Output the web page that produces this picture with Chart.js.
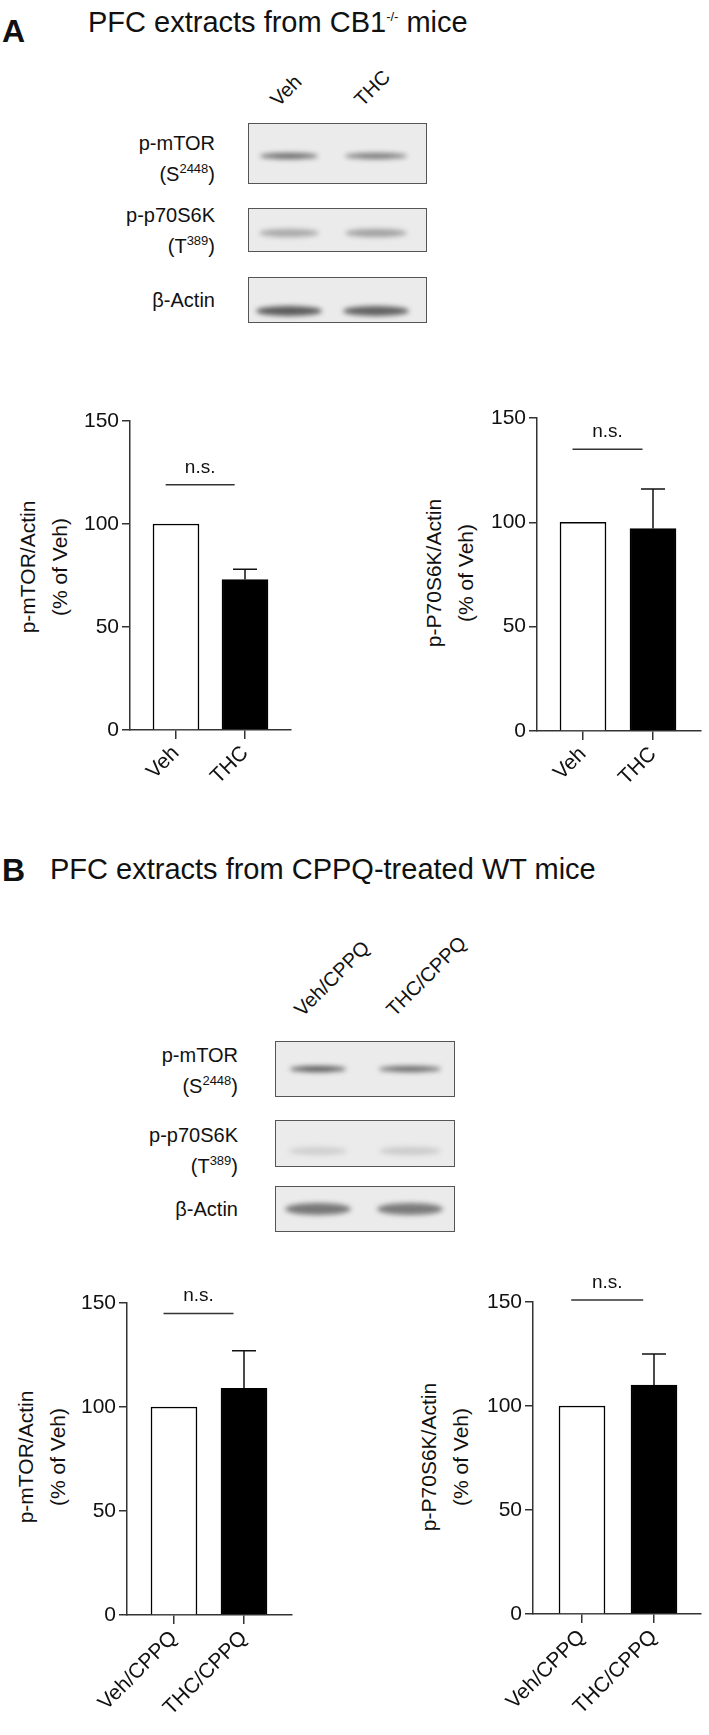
<!DOCTYPE html>
<html>
<head>
<meta charset="utf-8">
<script src="https://cdn.jsdelivr.net/npm/chart.js@4"></script>
<style>
  body { margin: 0; background: #fff; font-family: "Liberation Sans", Arial, sans-serif; color: #111; }
  #page { position: relative; width: 709px; height: 1735px; overflow: hidden; }
  .abs { position: absolute; white-space: nowrap; }
  .panel { font-weight: bold; font-size: 32px; }
  .title { font-size: 29px; }
  .lbl { font-size: 20px; text-align: right; line-height: 26px; }
  .lane { font-size: 20px; transform: rotate(-45deg); transform-origin: left bottom; }
  .blot { position: absolute; border: 1.5px solid #555; background: #ebebeb; box-sizing: border-box; overflow: hidden; }
  .band { position: absolute; border-radius: 50%; filter: blur(2.5px); }
  .ytitle { font-size: 21px; text-align: center; line-height: 32px; transform: translate(-50%, -50%) rotate(-90deg); }
  canvas { position: absolute; }
  sup { font-size: 13px; }
</style>
</head>
<body>
<div id="page">
  <div class="abs panel" style="left:2px;top:13px">A</div>
  <div class="abs title" style="left:88px;top:6px">PFC extracts from CB1<sup>-/-</sup> mice</div>
  <div class="abs lane" style="left:282px;top:88px">Veh</div>
  <div class="abs lane" style="left:366px;top:88px">THC</div>
  <div class="abs lbl" style="right:494px;top:130px">p-mTOR<br>(S<sup>2448</sup>)</div>
  <div class="abs lbl" style="right:494px;top:202px">p-p70S6K<br>(T<sup>389</sup>)</div>
  <div class="abs lbl" style="right:494px;top:287px">β-Actin</div>
  <div id="blotA"></div>

  <div class="abs panel" style="left:2px;top:852px">B</div>
  <div class="abs title" style="left:50px;top:853px">PFC extracts from CPPQ-treated WT mice</div>
  <div class="abs lane" style="left:306px;top:998px">Veh/CPPQ</div>
  <div class="abs lane" style="left:398px;top:998px">THC/CPPQ</div>
  <div class="abs lbl" style="right:471px;top:1042px">p-mTOR<br>(S<sup>2448</sup>)</div>
  <div class="abs lbl" style="right:471px;top:1122px">p-p70S6K<br>(T<sup>389</sup>)</div>
  <div class="abs lbl" style="right:471px;top:1196px">β-Actin</div>
  <div id="blotB"></div>

  <div class="abs ytitle" style="left:44px;top:567px">p-mTOR/Actin<br>(% of Veh)</div>
  <div class="abs ytitle" style="left:450px;top:573px">p-P70S6K/Actin<br>(% of Veh)</div>
  <div class="abs ytitle" style="left:42px;top:1457px">p-mTOR/Actin<br>(% of Veh)</div>
  <div class="abs ytitle" style="left:445px;top:1457px">p-P70S6K/Actin<br>(% of Veh)</div>

  <canvas id="a1"></canvas>
  <canvas id="a2"></canvas>
  <canvas id="b1"></canvas>
  <canvas id="b2"></canvas>
</div>
<script>
const groupsA = ['Veh', 'THC'];
const groupsB = ['Veh/CPPQ', 'THC/CPPQ'];
const yTicks = [0, 50, 100, 150];

const mtorA = [100, 73];
const mtorAErr = [0, 5];
const p70A = [100, 97];
const p70AErr = [0, 19];
const mtorB = [100, 109];
const mtorBErr = [0, 18];
const p70B = [100, 110];
const p70BErr = [0, 15];
const nsLevel = [119, 135, 145, 151];

const PAD_TOP = 60;

// western blot boxes (picture, not data)
function blot(parent, x, w, rows, lanes) {
  const root = document.getElementById(parent);
  rows.forEach(r => {
    const b = document.createElement('div');
    b.className = 'blot';
    b.style.cssText = `left:${x}px;top:${r.top}px;width:${w}px;height:${r.h}px`;
    lanes.forEach((c, i) => {
      const band = document.createElement('div');
      band.className = 'band';
      const bw = r.bw[i];
      band.style.cssText = `left:${c - x - bw / 2}px;top:${r.by - r.top - r.bh / 2}px;width:${bw}px;height:${r.bh}px;background:${r.col[i]}`;
      b.appendChild(band);
    });
    root.appendChild(b);
  });
}
blot('blotA', 248, 179, [
  { top: 123, h: 61, by: 155, bh: 6, bw: [58, 62], col: ['#6a6a6a', '#7a7a7a'] },
  { top: 208, h: 44, by: 232, bh: 8, bw: [60, 62], col: ['#a8a8a8', '#a0a0a0'] },
  { top: 277, h: 46, by: 310, bh: 10, bw: [66, 66], col: ['#5a5a5a', '#606060'] }
], [288, 375]);
blot('blotB', 275, 180, [
  { top: 1041, h: 56, by: 1068, bh: 6, bw: [56, 62], col: ['#5a5a5a', '#6a6a6a'] },
  { top: 1120, h: 47, by: 1150, bh: 8, bw: [58, 62], col: ['#cfcfcf', '#cbcbcb'] },
  { top: 1186, h: 46, by: 1208, bh: 12, bw: [66, 66], col: ['#777', '#7a7a7a'] }
], [317, 409]);

const marks = {
  id: 'marks',
  afterDatasetsDraw(chart, args, o) {
    const { ctx, scales: { x, y } } = chart;
    ctx.save();
    ctx.strokeStyle = '#111';
    ctx.lineWidth = 1.5;
    o.err.forEach((e, i) => {
      if (!e) return;
      const px = x.getPixelForValue(i);
      const y0 = y.getPixelForValue(o.vals[i]);
      const y1 = y.getPixelForValue(o.vals[i] + e);
      ctx.beginPath();
      ctx.moveTo(px, y0); ctx.lineTo(px, y1);
      ctx.moveTo(px - 12, y1); ctx.lineTo(px + 12, y1);
      ctx.stroke();
    });
    const ly = y.getPixelForValue(o.ns);
    ctx.strokeStyle = '#333';
    ctx.beginPath();
    ctx.moveTo(x.getPixelForValue(-0.15), ly);
    ctx.lineTo(x.getPixelForValue(0.85), ly);
    ctx.stroke();
    ctx.fillStyle = '#111';
    ctx.font = '19px "Liberation Sans", Arial, sans-serif';
    ctx.textAlign = 'center';
    ctx.textBaseline = 'alphabetic';
    ctx.fillText('n.s.', x.getPixelForValue(0.35), ly - 12);
    ctx.restore();
  }
};

function makeChart(id, g) {
  const cv = document.getElementById(id);
  const w = 130 + g.axisLen + 6, h = (g.zeroY - g.topY) + PAD_TOP + 110;
  cv.style.left = (g.axisX - 130) + 'px';
  cv.style.top = (g.topY - PAD_TOP) + 'px';
  cv.style.width = w + 'px';
  cv.style.height = h + 'px';
  cv.width = w; cv.height = h;
  const font = { family: '"Liberation Sans", Arial, sans-serif', size: 21 };
  new Chart(cv, {
    type: 'bar',
    data: {
      datasets: [{
        data: g.vals.map((v, i) => ({ x: i, y: v })),
        backgroundColor: ['#fff', '#000'],
        borderColor: '#000',
        borderWidth: 1.5,
        borderSkipped: 'bottom',
        barThickness: 46
      }]
    },
    options: {
      responsive: false,
      animation: false,
      layout: { padding: { top: PAD_TOP, right: 6, left: 0, bottom: 0 } },
      plugins: {
        legend: { display: false },
        tooltip: { enabled: false },
        marks: { vals: g.vals, err: g.err, ns: g.ns }
      },
      scales: {
        x: {
          type: 'linear',
          offset: false,
          min: -g.veh / g.spacing,
          max: (g.axisLen - g.veh) / g.spacing,
          afterFit: s => { s.height = 110; },
          afterBuildTicks: s => { s.ticks = [{ value: 0 }, { value: 1 }]; },
          grid: { offset: false, drawOnChartArea: false, tickLength: 9, color: '#333', lineWidth: 1.5 },
          border: { color: '#333', width: 1.5 },
          ticks: {
            autoSkip: false, minRotation: 45, maxRotation: 45, color: '#111',
            font: font, padding: 2,
            callback: v => g.groups[v]
          }
        },
        y: {
          min: 0, max: 150,
          afterFit: s => { s.width = 130; },
          afterBuildTicks: s => { s.ticks = yTicks.map(v => ({ value: v })); },
          grid: { drawOnChartArea: false, tickLength: 8, color: '#333', lineWidth: 1.5 },
          border: { color: '#333', width: 1.5 },
          ticks: { color: '#111', font: font, padding: 3 }
        }
      }
    },
    plugins: [marks]
  });
}

makeChart('a1', { axisX: 130, topY: 421, zeroY: 730, axisLen: 161, veh: 46, spacing: 69, vals: mtorA, err: mtorAErr, ns: nsLevel[0], groups: groupsA });
makeChart('a2', { axisX: 537, topY: 418, zeroY: 731, axisLen: 164, veh: 46, spacing: 70, vals: p70A, err: p70AErr, ns: nsLevel[1], groups: groupsA });
makeChart('b1', { axisX: 127, topY: 1303, zeroY: 1615, axisLen: 165, veh: 47, spacing: 70, vals: mtorB, err: mtorBErr, ns: nsLevel[2], groups: groupsB });
makeChart('b2', { axisX: 533, topY: 1302, zeroY: 1614, axisLen: 168, veh: 49, spacing: 72, vals: p70B, err: p70BErr, ns: nsLevel[3], groups: groupsB });
</script>
</body>
</html>
